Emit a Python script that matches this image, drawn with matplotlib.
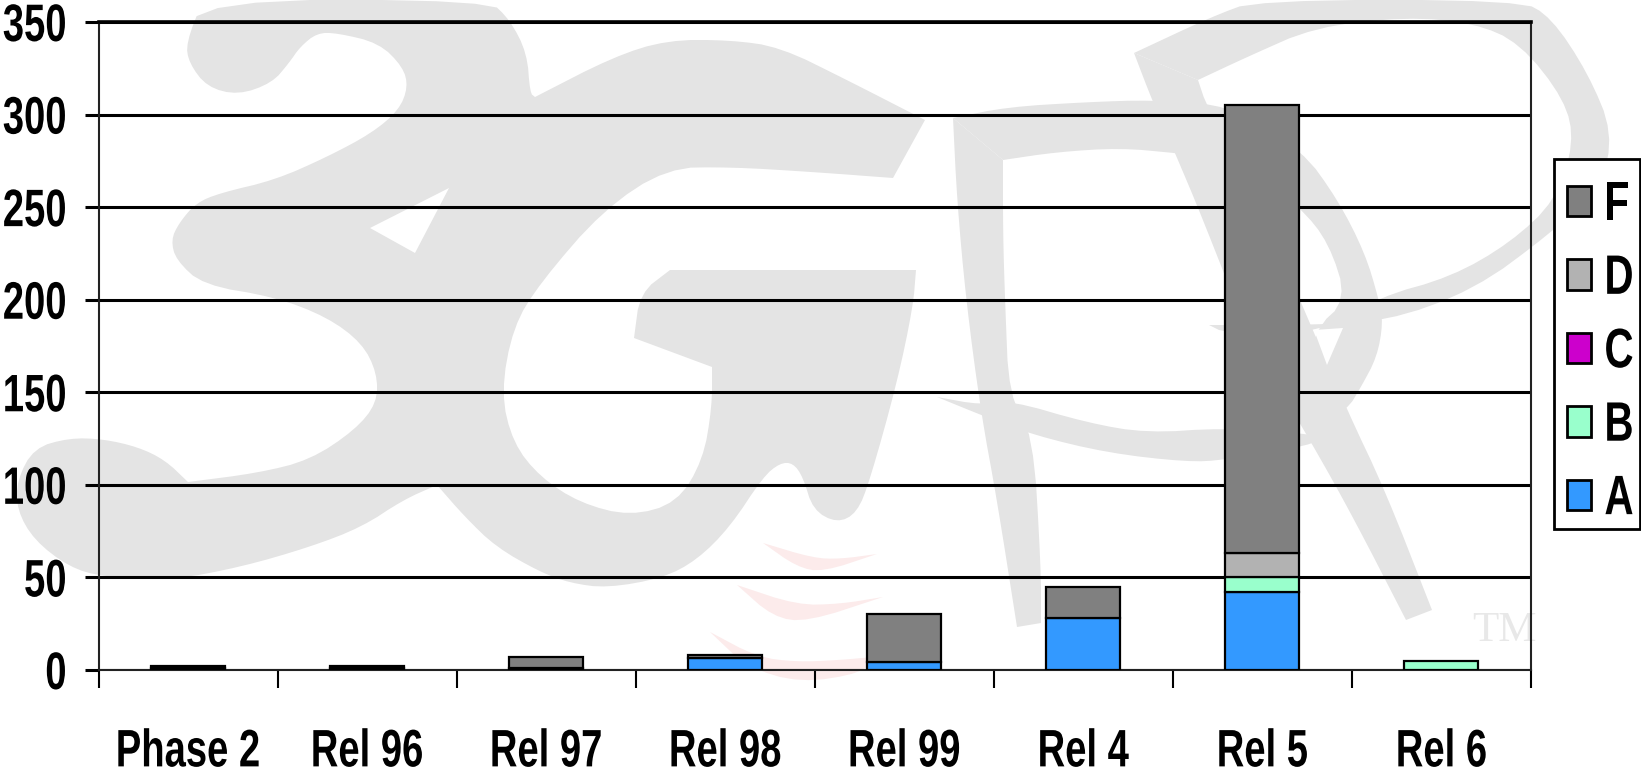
import numpy as np
import matplotlib
matplotlib.use("Agg")
import matplotlib.pyplot as plt
from matplotlib.patches import Polygon, Patch, Rectangle
from matplotlib.patheffects import AbstractPathEffect
from matplotlib.transforms import Affine2D

plt.rcParams['font.family'] = ['Liberation Sans', 'DejaVu Sans']

# chart data
releases = ["Phase 2", "Rel 96", "Rel 97", "Rel 98", "Rel 99", "Rel 4", "Rel 5", "Rel 6"]
series_names = ["A", "B", "C", "D", "F"]
series_a = [1, 1, 1, 6.3, 4.5, 28, 42, 0]
series_b = [0, 0, 0, 0, 0, 0, 8, 5]
series_c = [0, 0, 0, 0, 0, 0, 0, 0]
series_d = [0, 0, 0, 0, 0, 0, 13, 0]
series_f = [1, 1, 6, 1.7, 25.5, 17, 242, 0]
y_ticks = [0, 50, 100, 150, 200, 250, 300, 350]

COLORS = {"A": "#3399ff", "B": "#99ffcc", "C": "#cc00cc", "D": "#b2b2b2", "F": "#808080"}
GRAY = "#e4e4e4"
PINK = "#fcebeb"
FONT_SIZE = 27.5
LEGEND_SIZE = 29
TALL = 1.38

# watermark outlines, in image pixels (logo behind the chart)
LOGO_3G = [(203, 0), (186, 43), (189, 63), (207, 87), (238, 95), (272, 83), (289, 63), (300, 47), (317, 33),
           (337, 33), (379, 43), (403, 67), (408, 87), (399, 110), (372, 133), (327, 157), (275, 180), (220, 193),
           (196, 203), (179, 223), (171, 240), (176, 260), (203, 285), (275, 297), (327, 317), (362, 343),
           (377, 373), (377, 403), (355, 430), (310, 460), (258, 473), (188, 482), (188, 482), (165, 460),
           (138, 447), (103, 439), (69, 438), (34, 448), (17, 480), (17, 510), (34, 540), (69, 567), (103, 577),
           (172, 580), (241, 567), (310, 547), (362, 527), (403, 500), (437, 485), (437, 485), (465, 517),
           (496, 547), (540, 572), (570, 583), (607, 588), (663, 578), (697, 560), (730, 527), (763, 477),
           (780, 463), (793, 463), (803, 477), (813, 510), (837, 523), (857, 513), (870, 480), (897, 383),
           (913, 307), (916, 270), (916, 270), (670, 270), (670, 270), (640, 293), (634, 338), (634, 338),
           (712, 367), (712, 367), (712, 407), (703, 460), (677, 503), (630, 516), (580, 503), (540, 477),
           (513, 443), (501, 393), (513, 327), (540, 283), (603, 210), (667, 168), (730, 167), (813, 172),
           (893, 178), (893, 178), (925, 120), (925, 120), (847, 80), (780, 47), (730, 40), (667, 40), (613, 57),
           (535, 97), (535, 97), (530, 93), (527, 53), (510, 20), (489, 0)]
LOGO_NOTCH = [(449, 188), (449, 188), (370, 228), (370, 228), (415, 253), (415, 253)]
LOGO_P_STEM = [(953, 118), (953, 118), (957, 200), (966, 300), (981, 413), (997, 500), (1017, 627), (1017, 627),
               (1041, 623), (1041, 623), (1041, 567), (1033, 433), (1009, 397), (1005, 300), (1003, 233),
               (1003, 160), (1003, 160)]
LOGO_P_TOP = [(953, 118), (953, 118), (1007, 107), (1089, 102), (1152, 100), (1230, 105), (1302, 150), (1338, 200),
              (1365, 253), (1379, 300), (1383, 323), (1377, 357), (1361, 387), (1347, 410), (1315, 425), (1300, 400),
              (1314, 330), (1347, 300), (1329, 243), (1300, 207), (1240, 160), (1175, 153), (1120, 148), (1057, 152),
              (1003, 160), (1003, 160)]
LOGO_R_LEG = [(1134, 53), (1134, 53), (1152, 100), (1175, 153), (1202, 217), (1250, 340), (1310, 440), (1353, 517),
              (1406, 620), (1406, 620), (1432, 610), (1432, 610), (1385, 490), (1347, 410), (1300, 300), (1240, 160),
              (1207, 107), (1198, 80), (1198, 80)]
LOGO_BOWL = [(1134, 53), (1134, 53), (1211, 17), (1257, 0), (1520, 0), (1551, 17), (1588, 73), (1613, 133),
             (1601, 187), (1551, 233), (1474, 290), (1385, 322), (1300, 325), (1209, 325), (1209, 325), (1225, 333),
             (1314, 335), (1379, 297), (1451, 277), (1510, 243), (1556, 200), (1574, 143), (1565, 100), (1520, 43),
             (1474, 23), (1406, 17), (1315, 27), (1247, 57), (1198, 80), (1198, 80)]
LOGO_SWOOSH = [(937, 397), (937, 397), (981, 405), (1009, 400), (1088, 423), (1147, 433), (1223, 428), (1300, 433),
               (1320, 437), (1312, 445), (1225, 460), (1187, 462), (1108, 453), (1033, 435), (981, 415)]
LOGO_HOLE = [(1314, 330), (1314, 330), (1343, 328), (1343, 328), (1327, 365), (1327, 365)]
ARC_1 = [(763, 543), (763, 543), (797, 567), (823, 572), (877, 554), (877, 554), (840, 559), (813, 558)]
ARC_2 = [(737, 585), (737, 585), (773, 617), (807, 622), (883, 597), (883, 597), (840, 604), (797, 605)]
ARC_3 = [(710, 632), (710, 632), (747, 667), (800, 683), (863, 673), (873, 657), (873, 657), (840, 660), (797, 662),
         (757, 657)]


class TallText(AbstractPathEffect):
    # no narrow bold font here, so stretch the glyphs upward about their middle
    def __init__(self, factor):
        super().__init__()
        self.factor = factor

    def draw_path(self, renderer, gc, tpath, affine, rgbFace=None):
        box = tpath.get_extents(affine)
        mid = (box.y0 + box.y1) / 2
        stretch = Affine2D().translate(0, -mid).scale(1, self.factor).translate(0, mid)
        renderer.draw_path(gc, tpath, affine + stretch, rgbFace)


def smooth(points, rounds=2):
    # corner cutting, repeated points stay sharp
    pts = np.array(points, dtype=float)
    for _ in range(rounds):
        nxt = np.roll(pts, -1, axis=0)
        pts = np.column_stack([0.75 * pts + 0.25 * nxt, 0.25 * pts + 0.75 * nxt]).reshape(-1, 2)
    return pts


def draw_logo(fig):
    bg = fig.add_axes([0, 0, 1, 1], zorder=0)
    bg.set_xlim(0, 1641)
    bg.set_ylim(773, 0)
    bg.axis("off")
    for shape in [LOGO_3G, LOGO_P_STEM, LOGO_P_TOP, LOGO_R_LEG, LOGO_BOWL, LOGO_SWOOSH]:
        bg.add_patch(Polygon(smooth(shape), closed=True, fc=GRAY, ec="none"))
    for shape in [LOGO_NOTCH, LOGO_HOLE]:
        bg.add_patch(Polygon(smooth(shape), closed=True, fc="white", ec="none"))
    for shape in [ARC_1, ARC_2, ARC_3]:
        bg.add_patch(Polygon(smooth(shape), closed=True, fc=PINK, ec="none"))
    bg.text(1472, 641, "TM", family="Liberation Serif", fontsize=31, color="#e8e8e8", ha="left", va="baseline")


def main():
    fig = plt.figure(figsize=(16.41, 7.73), dpi=100, facecolor="white")
    draw_logo(fig)

    ax = fig.add_axes([98.5 / 1641, 1 - 670 / 773, (1531 - 98.5) / 1641, (670 - 22) / 773], zorder=1)
    ax.patch.set_visible(False)

    x = np.arange(len(releases)) + 0.5
    bottom = np.zeros(len(releases))
    series = [series_a, series_b, series_c, series_d, series_f]
    for name, values in zip(series_names, series):
        values = np.array(values, dtype=float)
        keep = values > 0
        if keep.any():
            ax.bar(x[keep], values[keep], width=0.413, bottom=bottom[keep], color=COLORS[name],
                   edgecolor="black", linewidth=1.6, zorder=3)
        bottom += values

    ax.set_xlim(0, len(releases))
    ax.set_ylim(0, 350)
    ax.set_yticks(y_ticks)
    ax.set_yticklabels([str(v) for v in y_ticks], fontsize=FONT_SIZE, fontweight="bold")
    ax.set_xticks(np.arange(len(releases) + 1))
    ax.set_xticklabels([])
    ax.set_xticks(x, minor=True)
    ax.set_xticklabels(releases, minor=True, fontsize=FONT_SIZE, fontweight="bold")
    ax.tick_params(axis="x", which="minor", length=0, pad=45.5)
    ax.tick_params(axis="x", which="major", length=13, width=1.5, color="black")
    ax.tick_params(axis="y", length=10, width=2.2, color="black", pad=13)
    ax.yaxis.grid(True, color="black", linewidth=2.2, zorder=1)
    ax.set_axisbelow(True)
    for side in ax.spines:
        ax.spines[side].set_linewidth(1.5)
        ax.spines[side].set_color("#222222")
    ax.spines["top"].set_linewidth(2.6)
    ax.spines["top"].set_color("black")

    # legend frame is its own patch, the entries sit inside it with their own spacing
    ax.add_patch(Rectangle((1554 / 1641, 1 - 529 / 773), 86 / 1641, 370 / 773, transform=fig.transFigure,
                           fc="white", ec="black", lw=2, clip_on=False, zorder=4))
    handles = [Patch(facecolor=COLORS[n], edgecolor="black", linewidth=2) for n in reversed(series_names)]
    leg = ax.legend(handles, list(reversed(series_names)), loc="center left", ncol=1,
                    bbox_to_anchor=(1567 / 1641, 1 - 351 / 773), bbox_transform=fig.transFigure,
                    prop={"size": LEGEND_SIZE, "weight": "bold"}, frameon=False, handlelength=0.6,
                    handleheight=0.79, handletextpad=0.33, labelspacing=0.88, borderpad=0, borderaxespad=0)
    leg.set_zorder(5)

    tall = [TallText(TALL)]
    for label in ax.get_yticklabels() + ax.get_xticklabels(minor=True) + leg.get_texts():
        label.set_path_effects(tall)

    fig.savefig("out.png", dpi=100)


if __name__ == "__main__":
    main()
